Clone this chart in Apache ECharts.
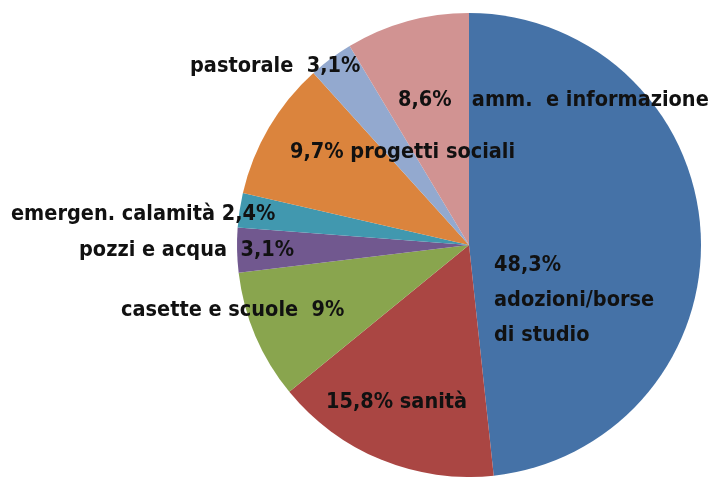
<!DOCTYPE html>
<html>
<head>
<meta charset="utf-8">
<script src="https://cdn.jsdelivr.net/npm/echarts@6/dist/echarts.min.js"></script>
<style>
  html, body { margin: 0; padding: 0; background: #fff; }
  #chart { width: 712px; height: 477px; }
</style>
</head>
<body>
<div id="chart"></div>
<script>
// voci di spesa, in senso orario dalle ore 12
const voci = ['adozioni/borse\ndi studio', 'sanità', 'casette e scuole', 'pozzi e acqua',
  'emergen. calamità', 'progetti sociali', 'pastorale', 'amm.  e informazione'];
const percentuali = [48.3, 15.8, 9, 3.1, 2.4, 9.7, 3.1, 8.6];
const valorePrima = [true, true, false, false, false, true, false, true];  // percentuale prima del nome?
const separatori = ['\n', ' ', '  ', '  ', ' ', ' ', '  ', '   '];
const colori = ['#4572A7', '#AA4643', '#89A54E', '#71588F', '#4198AF', '#DB843D', '#93A9CF', '#D19392'];

// posizione delle etichette (x sinistra, y centro)
const posEtichette = [
  [494, 300], [326, 402], [121, 310], [79, 250],
  [11, 214], [290, 152], [190, 66], [398, 100]
];

const chart = echarts.init(document.getElementById('chart'));

function fmt(v) { return String(v).replace('.', ',') + '%'; }

chart.setOption({
  animation: false,
  series: [{
    type: 'pie',
    center: [469, 245],
    radius: 232,
    startAngle: 90,
    clockwise: true,
    itemStyle: { borderWidth: 0 },
    label: {
      show: true,
      position: 'inside',
      color: '#111',
      fontFamily: '"DejaVu Sans Condensed", sans-serif',
      fontWeight: 'bold',
      fontSize: 21.5,
      lineHeight: 35,
      formatter: function (p) {
        const i = p.dataIndex;
        const s = separatori[i];
        return valorePrima[i] ? fmt(p.value) + s + p.name : p.name + s + fmt(p.value);
      }
    },
    labelLine: { show: false },
    labelLayout: function (params) {
      const pos = posEtichette[params.dataIndex];
      return { x: pos[0], y: pos[1], align: 'left', verticalAlign: 'middle' };
    },
    data: voci.map((v, i) => ({
      name: v,
      value: percentuali[i],
      itemStyle: { color: colori[i] }
    }))
  }]
});
</script>
</body>
</html>
